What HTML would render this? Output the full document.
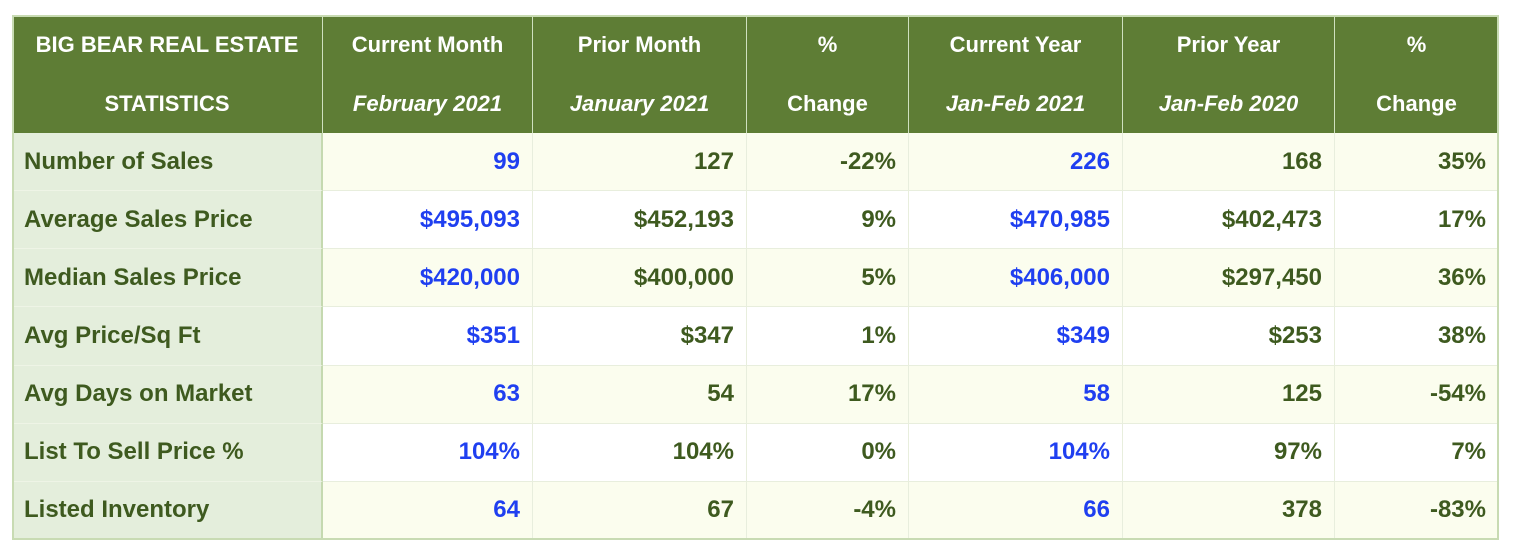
<!DOCTYPE html>
<html><head><meta charset="utf-8"><style>
body{margin:0;width:1516px;height:558px;background:#fff;font-family:"Liberation Sans",sans-serif;position:relative;overflow:hidden}
.c{position:absolute;box-sizing:border-box;font-weight:bold;display:flex;align-items:center}
.h{background:#5e7d35;color:#fff;font-size:22px;flex-direction:column;justify-content:center;text-align:center;border-right:1.5px solid #cfe0bf}
.h div{height:59px;line-height:59px;white-space:nowrap}
.h i{font-style:italic}
.l{background:#e4eedc;color:#3e5a1f;font-size:24px;padding-left:12px;border-right:2px solid #c5d9b0;border-bottom:1px solid #eef4e6}
.v{font-size:24px;justify-content:flex-end;padding-right:12px;color:#3e5a1f;border-right:1px solid #e8eedd;border-bottom:1px solid #e8eedd}
.b{color:#1f3ff0}
#frame{position:absolute;left:12px;top:15px;width:1487px;height:525px;border:2px solid #c8dbb3;box-sizing:border-box;pointer-events:none}
</style></head><body>
<div id="tbl"></div>
<div id="frame"></div>
<script>
const headers=[["BIG BEAR REAL ESTATE","STATISTICS"],["Current Month","February 2021"],["Prior Month","January 2021"],["%","Change"],["Current Year","Jan-Feb 2021"],["Prior Year","Jan-Feb 2020"],["%","Change"]];
const labels=["Number of Sales","Average Sales Price","Median Sales Price","Avg Price/Sq Ft","Avg Days on Market","List To Sell Price %","Listed Inventory"];
const curMonth=["99","$495,093","$420,000","$351","63","104%","64"];
const priorMonth=["127","$452,193","$400,000","$347","54","104%","67"];
const monthChange=["-22%","9%","5%","1%","17%","0%","-4%"];
const curYear=["226","$470,985","$406,000","$349","58","104%","66"];
const priorYear=["168","$402,473","$297,450","$253","125","97%","378"];
const yearChange=["35%","17%","36%","38%","-54%","7%","-83%"];
const cols=[12,323,533,747,909,1123,1335,1499];
const top0=15,hh=118,rh=58.14;
const t=document.getElementById('tbl');
headers.forEach((h,i)=>{
 const d=document.createElement('div');
 d.className='c h';
 
 
 d.style.cssText=`left:${cols[i]}px;top:${top0}px;width:${cols[i+1]-cols[i]}px;height:${hh}px`;
 d.innerHTML=`<div>${h[0]}</div><div>${i==0||i==3||i==6?h[1]:'<i>'+h[1]+'</i>'}</div>`;
 t.appendChild(d);
});
const series=[curMonth,priorMonth,monthChange,curYear,priorYear,yearChange];
labels.forEach((lab,r)=>{
 const y=top0+hh+r*rh;
 const d=document.createElement('div');
 d.className='c l';
 
 
 d.style.cssText=`left:${cols[0]}px;top:${y}px;width:${cols[1]-cols[0]}px;height:${rh}px`;
 d.textContent=lab;t.appendChild(d);
 series.forEach((s,j)=>{
  const c=document.createElement('div');
  c.className='c v'+(j==0||j==3?' b':'');
  
  
  c.style.cssText=`left:${cols[j+1]}px;top:${y}px;width:${cols[j+2]-cols[j+1]}px;height:${rh}px;background:${r%2==0?'#fbfdee':'#fff'}`;
  c.textContent=s[r];t.appendChild(c);
 });
});
</script>
</body></html>
